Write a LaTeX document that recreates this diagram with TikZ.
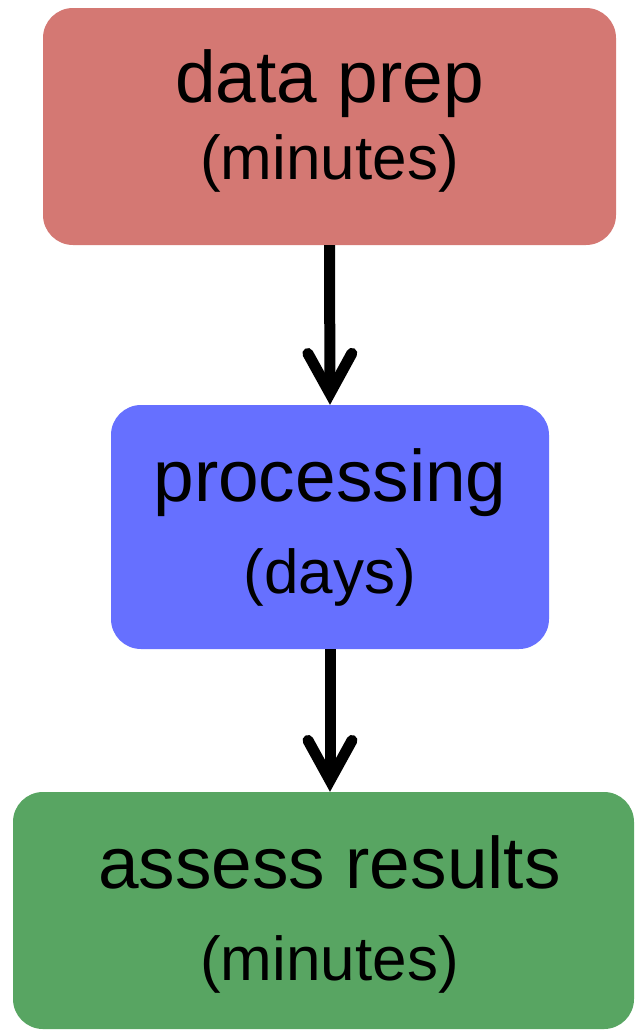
\documentclass[tikz,border=0pt]{standalone}
\usepackage{fontspec}
\setmainfont{Liberation Sans}
\usetikzlibrary{arrows.meta,positioning}
\definecolor{PrepRed}{RGB}{212,120,115}
\definecolor{ProcBlue}{RGB}{102,112,255}
\definecolor{EvalGreen}{RGB}{88,165,98}
\tikzset{
 pipe box/.style={rectangle,rounded corners=30pt,inner sep=0pt,align=center,
                  font=\fontsize{73}{77}\selectfont},
 pipe arrow/.style={line width=11pt,
                  -{Straight Barb[length=40pt,width=44pt,line cap=round]}}
}
\newcommand{\subline}[1]{{\fontsize{62}{77}\selectfont #1}}

\begin{document}
\begin{tikzpicture}[x=1pt,y=-1pt]
 \useasboundingbox (0,0) rectangle (635,1031);
 % stages
 \node[pipe box,fill=PrepRed,minimum width=573pt,minimum height=237pt]
   (prep) at (329.5,126.5)
   {data prep\\\subline{(minutes)}\rule[-23pt]{0pt}{1pt}};
 \node[pipe box,fill=ProcBlue,minimum width=438pt,minimum height=244pt]
   (proc) at (330,527) {processing\\[15pt]\subline{(days)}};
 \node[pipe box,fill=EvalGreen,minimum width=621pt,minimum height=237pt]
   (eval) at (323.5,910.5)
   {\kern12pt assess results\rule{0pt}{60pt}\\[15pt]\subline{\kern12pt(minutes)}};
 % flow
 \draw[pipe arrow] (prep.south) -- (proc.north);
 \draw[pipe arrow] (proc.south) -- (proc.south |- eval.north);
\end{tikzpicture}
\end{document}
